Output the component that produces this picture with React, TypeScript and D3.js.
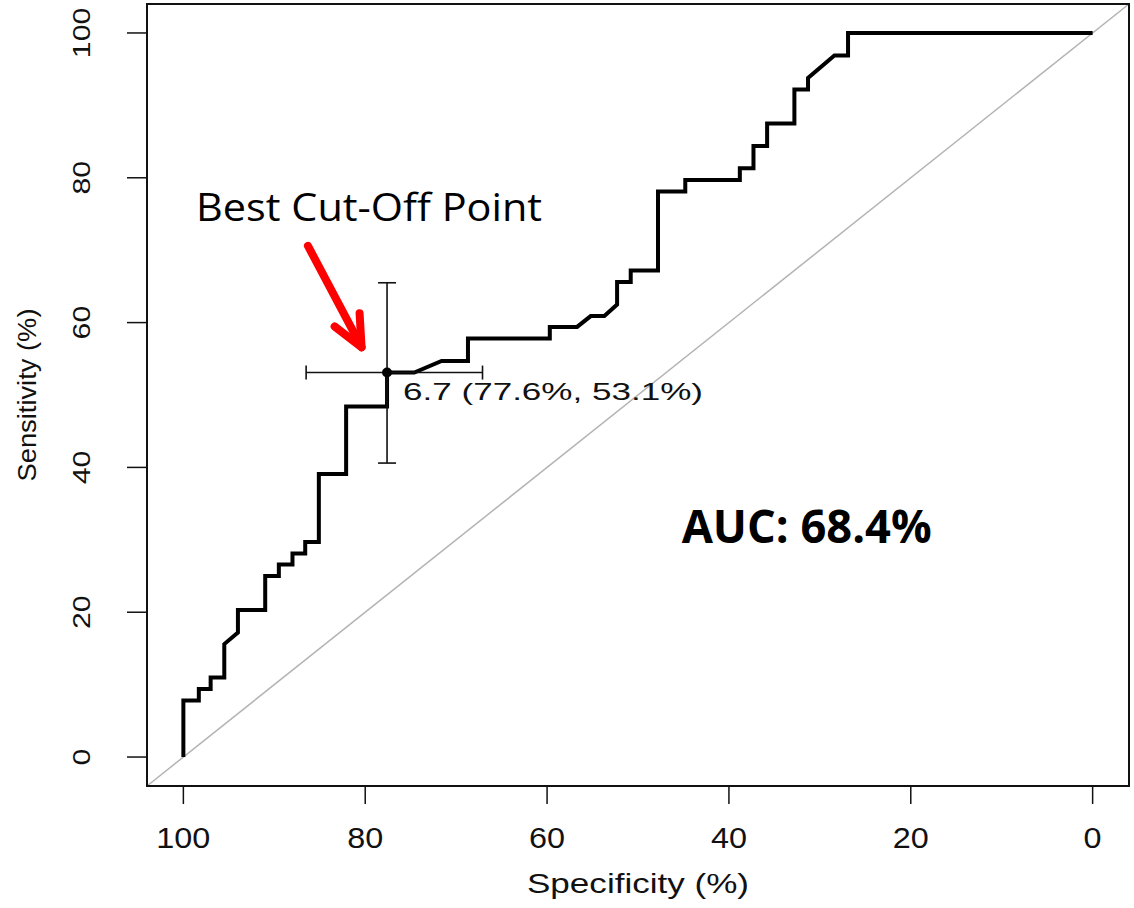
import React, { useEffect, useRef } from 'react'
import * as d3 from 'd3'

// ROC curve: specificity (%) and sensitivity (%)
const specificity = [100, 100, 98.3, 98.3, 97.0, 97.0, 95.5, 95.5, 94.0, 94.0, 91.0, 91.0, 89.5, 89.5, 88.0, 88.0, 86.6, 86.6, 85.1, 85.1, 82.1, 82.1, 77.6, 77.6, 74.6, 71.6, 68.7, 68.7, 59.7, 59.7, 56.7, 55.2, 53.7, 52.3, 52.3, 50.8, 50.8, 47.8, 47.8, 44.8, 44.8, 38.8, 38.8, 37.3, 37.3, 35.8, 35.8, 32.8, 32.8, 31.3, 31.3, 28.4, 26.9, 26.9, 0]
const sensitivity = [0, 7.8, 7.8, 9.4, 9.4, 11.0, 11.0, 15.6, 17.2, 20.3, 20.3, 25.0, 25.0, 26.6, 26.6, 28.1, 28.1, 29.7, 29.7, 39.1, 39.1, 48.4, 48.4, 53.1, 53.1, 54.7, 54.7, 57.8, 57.8, 59.4, 59.4, 60.9, 60.9, 62.5, 65.6, 65.6, 67.2, 67.2, 78.1, 78.1, 79.7, 79.7, 81.3, 81.3, 84.4, 84.4, 87.5, 87.5, 92.2, 92.2, 93.8, 96.9, 96.9, 100, 100]

const xTicks = [100, 80, 60, 40, 20, 0]
const yTicks = [0, 20, 40, 60, 80, 100]

// best threshold and its confidence intervals
const bestThreshold = 6.7
const bestSpec = 77.6
const bestSens = 53.1
const specCI = [86.5, 67.1]
const sensCI = [40.6, 65.5]
const auc = 68.4

const App = () => {
    const ref = useRef<SVGSVGElement>(null)

    useEffect(() => {
        const svg = d3.select(ref.current)
        svg.selectAll('*').remove()

        const x = d3.scaleLinear().domain([104, -4]).range([147, 1129])
        const y = d3.scaleLinear().domain([-4, 104]).range([786, 4])

        const axisFont = "'Liberation Sans', Arial, Helvetica, sans-serif"
        const noteFont = "'Open Sans', 'Noto Sans', Calibri, sans-serif"

        // chance diagonal
        svg.append('line')
            .attr('x1', x(104)).attr('y1', y(-4))
            .attr('x2', x(-4)).attr('y2', y(104))
            .attr('stroke', '#b3b3b3')
            .attr('stroke-width', 1.5)

        // box
        svg.append('rect')
            .attr('x', x(104)).attr('y', y(104))
            .attr('width', x(-4) - x(104))
            .attr('height', y(-4) - y(104))
            .attr('fill', 'none')
            .attr('stroke', '#111')
            .attr('stroke-width', 2)

        // x ticks
        const gx = svg.append('g')
        gx.selectAll('line')
            .data(xTicks)
            .join('line')
            .attr('x1', d => x(d)).attr('x2', d => x(d))
            .attr('y1', y(-4)).attr('y2', y(-4) + 18)
            .attr('stroke', '#111')
            .attr('stroke-width', 1.5)
        gx.selectAll('text')
            .data(xTicks)
            .join('text')
            .attr('x', d => x(d))
            .attr('y', 848)
            .attr('text-anchor', 'middle')
            .attr('font-family', axisFont)
            .attr('font-size', 29)
            .attr('fill', '#111')
            .attr('textLength', d => String(d).length * 18)
            .attr('lengthAdjust', 'spacingAndGlyphs')
            .text(d => d)

        // y ticks
        const gy = svg.append('g')
        gy.selectAll('line')
            .data(yTicks)
            .join('line')
            .attr('x1', x(104) - 20).attr('x2', x(104))
            .attr('y1', d => y(d)).attr('y2', d => y(d))
            .attr('stroke', '#111')
            .attr('stroke-width', 1.5)
        gy.selectAll('text')
            .data(yTicks)
            .join('text')
            .attr('transform', d => `translate(90,${y(d)}) rotate(-90)`)
            .attr('text-anchor', 'middle')
            .attr('font-family', axisFont)
            .attr('font-size', 23)
            .attr('fill', '#111')
            .attr('textLength', d => String(d).length * 16.8)
            .attr('lengthAdjust', 'spacingAndGlyphs')
            .text(d => d)

        // axis titles
        svg.append('text')
            .attr('x', (x(104) + x(-4)) / 2)
            .attr('y', 893)
            .attr('text-anchor', 'middle')
            .attr('font-family', axisFont)
            .attr('font-size', 28)
            .attr('fill', '#111')
            .attr('textLength', 222)
            .attr('lengthAdjust', 'spacingAndGlyphs')
            .text('Specificity (%)')

        svg.append('text')
            .attr('transform', `translate(36,${(y(104) + y(-4)) / 2}) rotate(-90)`)
            .attr('text-anchor', 'middle')
            .attr('font-family', axisFont)
            .attr('font-size', 26)
            .attr('fill', '#111')
            .attr('textLength', 173)
            .attr('lengthAdjust', 'spacingAndGlyphs')
            .text('Sensitivity (%)')

        // ROC curve
        const pts: [number, number][] = specificity.map((s, i) => [s, sensitivity[i]])
        const line = d3.line<[number, number]>()
            .x(d => x(d[0]))
            .y(d => y(d[1]))
        svg.append('path')
            .datum(pts)
            .attr('d', line)
            .attr('fill', 'none')
            .attr('stroke', '#000')
            .attr('stroke-width', 4)
            .attr('stroke-linejoin', 'miter')

        // confidence bars around best point
        const ci = svg.append('g')
            .attr('stroke', '#111')
            .attr('stroke-width', 1.6)
        ci.append('line')
            .attr('x1', x(specCI[0])).attr('x2', x(specCI[1]))
            .attr('y1', y(bestSens)).attr('y2', y(bestSens))
        specCI.forEach(s => {
            ci.append('line')
                .attr('x1', x(s)).attr('x2', x(s))
                .attr('y1', y(bestSens) - 7).attr('y2', y(bestSens) + 7)
        })
        ci.append('line')
            .attr('x1', x(bestSpec)).attr('x2', x(bestSpec))
            .attr('y1', y(sensCI[0])).attr('y2', y(sensCI[1]))
        sensCI.forEach(s => {
            ci.append('line')
                .attr('x1', x(bestSpec) - 9).attr('x2', x(bestSpec) + 9)
                .attr('y1', y(s)).attr('y2', y(s))
        })

        svg.append('circle')
            .attr('cx', x(bestSpec))
            .attr('cy', y(bestSens))
            .attr('r', 5)
            .attr('fill', '#000')

        svg.append('text')
            .attr('x', x(bestSpec) + 16)
            .attr('y', y(bestSens) + 27)
            .attr('font-family', axisFont)
            .attr('font-size', 24)
            .attr('fill', '#111')
            .attr('textLength', 300)
            .attr('lengthAdjust', 'spacingAndGlyphs')
            .text(`${bestThreshold} (${bestSpec}%, ${bestSens}%)`)

        // annotations
        svg.append('text')
            .attr('x', x(98.6))
            .attr('y', y(74.0))
            .attr('font-family', noteFont)
            .attr('font-size', 39)
            .attr('fill', '#000')
            .attr('textLength', 346)
            .attr('lengthAdjust', 'spacingAndGlyphs')
            .text('Best Cut-Off Point')

        svg.append('text')
            .attr('x', x(45.2))
            .attr('y', y(29.5))
            .attr('font-family', noteFont)
            .attr('font-weight', 'bold')
            .attr('font-size', 47)
            .attr('fill', '#000')
            .attr('textLength', 250)
            .attr('lengthAdjust', 'spacingAndGlyphs')
            .text(`AUC: ${auc}%`)

        // red arrow pointing at the cut-off
        const x0 = x(86.3), y0 = y(70.6)
        const x1 = x(80.4), y1 = y(56.6)
        const ang = Math.atan2(y0 - y1, x0 - x1)
        const head = 34
        const spread = 24.5 * Math.PI / 180
        const w1 = [x1 + head * Math.cos(ang - spread), y1 + head * Math.sin(ang - spread)]
        const w2 = [x1 + head * Math.cos(ang + spread), y1 + head * Math.sin(ang + spread)]
        const arrow = svg.append('g')
            .attr('stroke', '#ff0000')
            .attr('stroke-width', 8)
            .attr('stroke-linecap', 'round')
            .attr('stroke-linejoin', 'round')
            .attr('fill', 'none')
        arrow.append('path')
            .attr('d', `M${x0},${y0}L${x1},${y1}`)
        arrow.append('path')
            .attr('d', `M${w1[0]},${w1[1]}L${x1},${y1}L${w2[0]},${w2[1]}`)

    }, [])

    return (
        <svg
            ref={ref}
            width={1134}
            height={908}
            style={{ position: 'absolute', left: 0, top: 0, background: '#fff' }}
        />
    )
}

export default App
